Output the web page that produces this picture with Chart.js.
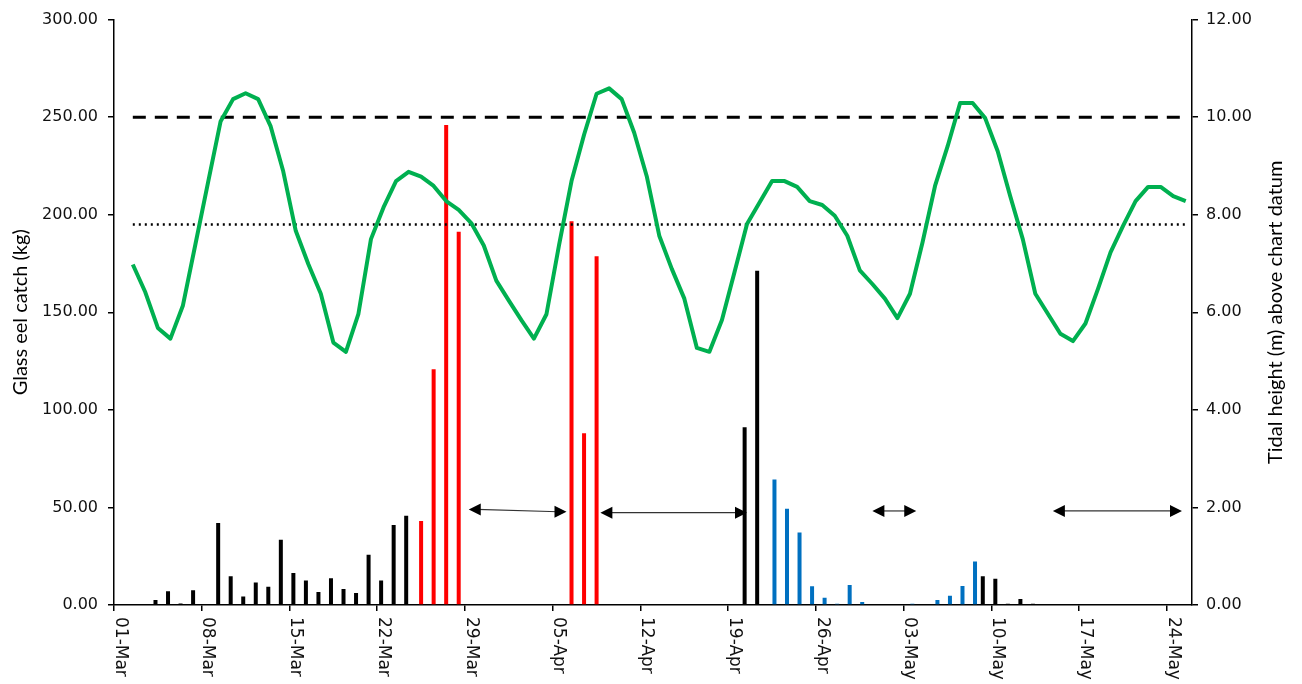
<!DOCTYPE html>
<html>
<head>
<meta charset="utf-8">
<script src="https://cdn.jsdelivr.net/npm/chart.js@4.4.1/dist/chart.umd.min.js"></script>
<style>
  html, body { margin: 0; padding: 0; background: #fff; }
</style>
</head>
<body>
<canvas id="eelChart" width="1302" height="684"></canvas>
<script>
// one category per day, 01-Mar .. 25-May
const monthDays = [["Mar", 31], ["Apr", 30], ["May", 25]];
const dayLabels = [];
monthDays.forEach(([m, n]) => {
  for (let d = 1; d <= n; d++) dayLabels.push(String(d).padStart(2, "0") + "-" + m);
});

const weekLabels = ["01-Mar", "08-Mar", "15-Mar", "22-Mar", "29-Mar", "05-Apr", "12-Apr",
  "19-Apr", "26-Apr", "03-May", "10-May", "17-May", "24-May"];

// glass eel catch (kg), [date, kg]
const catchBlack = [
  ["02-Mar", 0.5], ["04-Mar", 2.5], ["05-Mar", 7.0], ["06-Mar", 0.8], ["07-Mar", 7.5],
  ["09-Mar", 42.0], ["10-Mar", 14.7], ["11-Mar", 4.3], ["12-Mar", 11.5], ["13-Mar", 9.3],
  ["14-Mar", 33.4], ["15-Mar", 16.4], ["16-Mar", 12.6], ["17-Mar", 6.7], ["18-Mar", 13.7],
  ["19-Mar", 8.2], ["20-Mar", 6.2], ["21-Mar", 25.7], ["22-Mar", 12.6], ["23-Mar", 41.0],
  ["24-Mar", 45.7], ["20-Apr", 91.1], ["21-Apr", 171.3],
  ["09-May", 14.7], ["10-May", 13.5], ["11-May", 0.6], ["12-May", 3.1], ["13-May", 0.6],
];
const catchRed = [
  ["25-Mar", 43.0], ["26-Mar", 120.8], ["27-Mar", 246.0], ["28-Mar", 191.3],
  ["06-Apr", 196.7], ["07-Apr", 88.0], ["08-Apr", 178.7],
];
const catchBlue = [
  ["22-Apr", 64.3], ["23-Apr", 49.3], ["24-Apr", 37.1], ["25-Apr", 9.6], ["26-Apr", 3.7],
  ["27-Apr", 0.6], ["28-Apr", 10.3], ["29-Apr", 1.6],
  ["03-May", 0.6], ["05-May", 2.6], ["06-May", 4.8], ["07-May", 9.8], ["08-May", 22.3],
];

// tidal height (m) above chart datum, 02-Mar .. 25-May
const tideHeights = [
  6.98, 6.41, 5.68, 5.46, 6.14, 7.40, 8.66, 9.91, 10.37, 10.49,
  10.37, 9.81, 8.89, 7.67, 6.99, 6.38, 5.38, 5.19, 5.97, 7.50,
  8.15, 8.69, 8.88, 8.78, 8.59, 8.28, 8.10, 7.83, 7.37, 6.65,
  6.24, 5.84, 5.46, 5.96, 7.37, 8.69, 9.64, 10.48, 10.59, 10.37,
  9.68, 8.79, 7.57, 6.89, 6.28, 5.27, 5.19, 5.84, 6.82, 7.81,
  8.25, 8.69, 8.69, 8.57, 8.28, 8.20, 7.98, 7.57, 6.86, 6.58,
  6.28, 5.88, 6.38, 7.43, 8.59, 9.40, 10.29, 10.29, 9.98, 9.30,
  8.38, 7.50, 6.38, 5.97, 5.56, 5.41, 5.77, 6.48, 7.23, 7.77,
  8.28, 8.57, 8.57, 8.38, 8.28,
];
const tideUpper = 10.0;
const tideLower = 7.8;

// closed periods: [from day, to day, kg level at start, kg level at end]
const gapArrows = [
  [28.3, 36.1, 49.0, 47.8],
  [38.8, 50.5, 47.3, 47.3],
  [60.5, 64.0, 48.2, 48.2],
  [74.9, 85.2, 48.2, 48.2],
];

const toSeries = (pairs) => {
  const out = dayLabels.map(() => null);
  pairs.forEach(([d, v]) => { out[dayLabels.indexOf(d)] = v; });
  return out;
};
const tideSeries = [null, ...tideHeights];
const levelSeries = (v) => dayLabels.map((_, i) => (i === 0 ? null : v));

const TICK_FONT = { family: "'DejaVu Sans'", size: 16 };
const TITLE_FONT = "20px Lato";

const axisText = {
  id: "axisText",
  afterDraw(chart) {
    const ctx = chart.ctx;
    const xs = chart.scales.xDays;
    ctx.save();
    ctx.fillStyle = "#111";
    ctx.font = "17px 'DejaVu Sans'";
    ctx.textAlign = "left";
    ctx.textBaseline = "middle";
    xs.ticks.forEach((t) => {
      ctx.save();
      ctx.translate(xs.getPixelForValue(t.value) + 6, xs.top + 12);
      ctx.rotate(Math.PI / 2);
      ctx.fillText(t.label, 0, 0);
      ctx.restore();
    });
    const yr = chart.scales.yTide;
    ctx.translate(yr.right - 26, (yr.top + yr.bottom) / 2);
    ctx.rotate(-Math.PI / 2);
    ctx.textAlign = "center";
    ctx.fillStyle = "#000";
    ctx.font = TITLE_FONT;
    ctx.fillText("Tidal height (m) above chart datum", 0, 0);
    ctx.restore();
  },
};

const arrowLines = {
  id: "arrowLines",
  afterDatasetsDraw(chart) {
    const ctx = chart.ctx;
    const xs = chart.scales.xDays;
    const ys = chart.scales.yCatch;
    const head = (x, y, dir) => {
      ctx.beginPath();
      ctx.moveTo(x, y);
      ctx.lineTo(x + dir * 12, y - 6);
      ctx.lineTo(x + dir * 12, y + 6);
      ctx.closePath();
      ctx.fill();
    };
    ctx.save();
    ctx.fillStyle = "#000";
    ctx.strokeStyle = "#333";
    ctx.lineWidth = 1.2;
    gapArrows.forEach(([d0, d1, k0, k1]) => {
      const x0 = xs.getPixelForValue(d0);
      const x1 = xs.getPixelForValue(d1);
      const y0 = ys.getPixelForValue(k0);
      const y1 = ys.getPixelForValue(k1);
      ctx.beginPath();
      ctx.moveTo(x0 + 8, y0);
      ctx.lineTo(x1 - 8, y1);
      ctx.stroke();
      head(x0, y0, 1);
      head(x1, y1, -1);
    });
    ctx.restore();
  },
};

const barStyle = { barPercentage: 1.68, categoryPercentage: 0.57, order: 1, yAxisID: "yCatch", xAxisID: "x" };

new Chart(document.getElementById("eelChart").getContext("2d"), {
  type: "bar",
  data: {
    labels: dayLabels,
    datasets: [
      { type: "line", data: tideSeries, yAxisID: "yTide", xAxisID: "x", order: 0,
        borderColor: "#00B050", borderWidth: 4, pointRadius: 0, tension: 0, borderJoinStyle: "round" },
      { type: "line", data: levelSeries(tideUpper), yAxisID: "yTide", xAxisID: "x", order: 0,
        borderColor: "#000", borderWidth: 3, borderDash: [13, 9], pointRadius: 0 },
      { type: "line", data: levelSeries(tideLower), yAxisID: "yTide", xAxisID: "x", order: 0,
        borderColor: "#000", borderWidth: 2.5, borderDash: [2, 4], pointRadius: 0 },
      { ...barStyle, data: toSeries(catchBlack), backgroundColor: "#000000" },
      { ...barStyle, data: toSeries(catchRed), backgroundColor: "#FF0000" },
      { ...barStyle, data: toSeries(catchBlue), backgroundColor: "#0070C0" },
    ],
  },
  options: {
    responsive: false,
    animation: false,
    layout: { padding: { top: 16, left: 0, right: 0, bottom: 0 } },
    plugins: { legend: { display: false }, tooltip: { enabled: false } },
    scales: {
      x: { type: "category", offset: true, display: false },
      xDays: {
        type: "linear", axis: "x", position: "bottom", min: 0, max: dayLabels.length, offset: false,
        afterFit: (s) => { s.height = 79; },
        grid: { drawOnChartArea: false, offset: false, color: "#000", lineWidth: 1.5, tickLength: 6 },
        border: { color: "#000", width: 1.5 },
        ticks: { display: false, stepSize: 7, includeBounds: false, callback: (v) => weekLabels[v / 7] },
      },
      yCatch: {
        position: "left", min: 0, max: 300,
        afterFit: (s) => { s.width = 114; },
        grid: { drawOnChartArea: false, color: "#000", lineWidth: 1.5, tickLength: 6 },
        border: { color: "#000", width: 1.5 },
        ticks: { stepSize: 50, padding: 10, color: "#111", font: TICK_FONT, callback: (v) => v.toFixed(2) },
        title: { display: true, text: "Glass eel catch (kg)", color: "#000",
          font: { family: "Lato", size: 20 }, padding: { top: 9, bottom: 0 } },
      },
      yTide: {
        position: "right", min: 0, max: 12,
        afterFit: (s) => { s.width = 110; },
        grid: { drawOnChartArea: false, color: "#000", lineWidth: 1.5, tickLength: 6 },
        border: { color: "#000", width: 1.5 },
        ticks: { stepSize: 2, padding: 8, color: "#111", font: TICK_FONT, callback: (v) => v.toFixed(2) },
      },
    },
  },
  plugins: [arrowLines, axisText],
});
</script>
</body>
</html>
